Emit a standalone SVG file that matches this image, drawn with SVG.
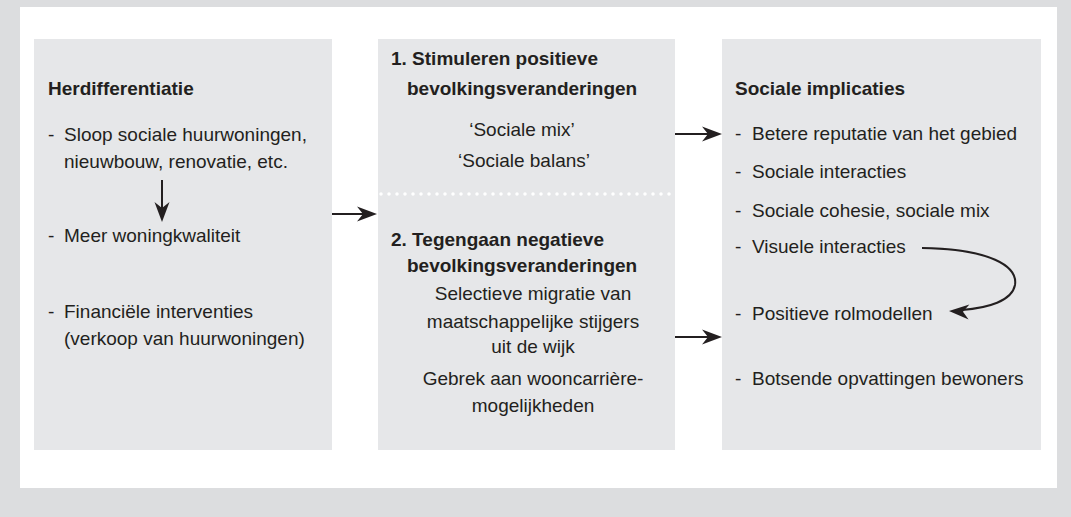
<svg xmlns="http://www.w3.org/2000/svg" width="1071" height="517" viewBox="0 0 1071 517">
<style>
text{font-family:"Liberation Sans",Arial,sans-serif;font-size:19px;fill:#231f20}
.b{font-weight:bold}
.m{text-anchor:middle}
.box{fill:#e6e7e9}
.ln{stroke:#231f20;stroke-width:2;fill:none}
.ah{fill:#231f20}
</style>
<defs>
<path id="head" d="M0,0 L-20,-7.5 L-14,0 L-20,7.5 Z"/>
</defs>
<rect x="0" y="0" width="1071" height="517" fill="#dcdddf"/>
<rect x="20" y="7" width="1037" height="481" fill="#ffffff"/>

<g id="node-herdifferentiatie">
<rect class="box" x="34" y="39" width="298" height="411"/>
<text class="b" x="48" y="95">Herdifferentiatie</text>
<text x="48" y="141">-</text><text x="64" y="141">Sloop sociale huurwoningen,</text>
<text x="64" y="168">nieuwbouw, renovatie, etc.</text>
<text x="48" y="242">-</text><text x="64" y="242">Meer woningkwaliteit</text>
<text x="48" y="318">-</text><text x="64" y="318">Financiële interventies</text>
<text x="64" y="345">(verkoop van huurwoningen)</text>
</g>

<g id="node-bevolking">
<rect class="box" x="378" y="39" width="297" height="411"/>
<text class="b" x="391" y="65">1. Stimuleren positieve</text>
<text class="b" x="407" y="95">bevolkingsveranderingen</text>
<text class="m" x="522" y="136">‘Sociale mix’</text>
<text class="m" x="524" y="167">‘Sociale balans’</text>
<line x1="381" y1="194" x2="675" y2="194" stroke="#ffffff" stroke-width="3.5" stroke-linecap="round" stroke-dasharray="0 8"/>
<text class="b" x="391" y="246">2. Tegengaan negatieve</text>
<text class="b" x="407" y="272">bevolkingsveranderingen</text>
<text class="m" x="533" y="300">Selectieve migratie van</text>
<text class="m" x="533" y="328">maatschappelijke stijgers</text>
<text class="m" x="533" y="353">uit de wijk</text>
<text class="m" x="533" y="385">Gebrek aan wooncarrière-</text>
<text class="m" x="533" y="412">mogelijkheden</text>
</g>

<g id="node-sociale-implicaties">
<rect class="box" x="722" y="39" width="319" height="411"/>
<text class="b" x="735" y="95">Sociale implicaties</text>
<text x="735" y="140">-</text><text x="752" y="140">Betere reputatie van het gebied</text>
<text x="735" y="178">-</text><text x="752" y="178">Sociale interacties</text>
<text x="735" y="217">-</text><text x="752" y="217">Sociale cohesie, sociale mix</text>
<text x="735" y="253">-</text><text x="752" y="253">Visuele interacties</text>
<text x="735" y="320">-</text><text x="752" y="320">Positieve rolmodellen</text>
<text x="735" y="385">-</text><text x="752" y="385">Botsende opvattingen bewoners</text>
</g>

<g id="connectors">
<line class="ln" x1="162" y1="180" x2="162" y2="210"/>
<use href="#head" class="ah" transform="translate(162,222) rotate(90)"/>
<line class="ln" x1="332" y1="214" x2="365" y2="214"/>
<use href="#head" class="ah" transform="translate(377,214)"/>
<line class="ln" x1="675" y1="134" x2="710" y2="134"/>
<use href="#head" class="ah" transform="translate(722,134)"/>
<line class="ln" x1="675" y1="337" x2="710" y2="337"/>
<use href="#head" class="ah" transform="translate(722,337)"/>
<path class="ln" stroke-width="1.6" d="M922,248 C990,249 1018,266 1015,285 C1012,301 988,308 962,310"/>
<use href="#head" class="ah" transform="translate(949,311) rotate(183)"/>
</g>
</svg>
